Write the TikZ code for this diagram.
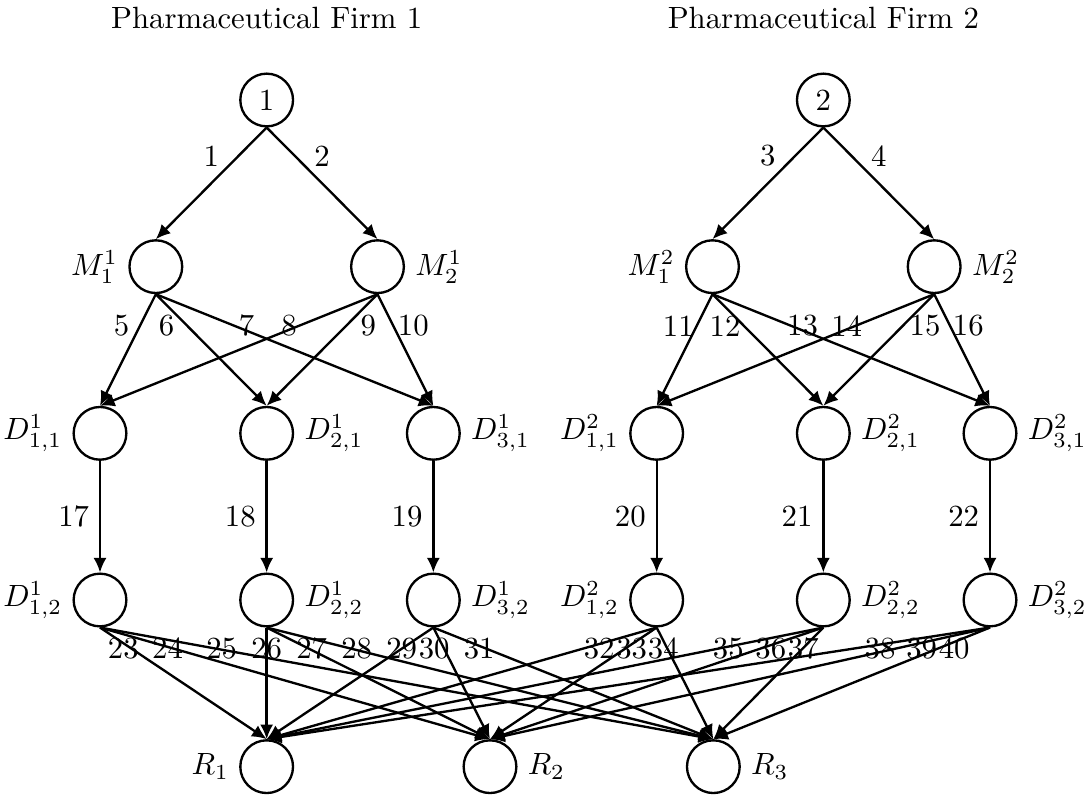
\RequirePackage{fix-cm}
\documentclass[tikz,border=0pt]{standalone}
\usepackage{amsmath}
\usepackage{fontspec}
\usetikzlibrary{arrows.meta, positioning}
\tikzset{
  netnode/.style={draw, circle, thick, minimum size=18pt, inner sep=0pt, label distance=-1.2pt},
  flow/.style={-{Latex[length=5pt, width=4.5pt]}, thick},
}

\begin{document}
\begin{tikzpicture}[font=\fontsize{10.5pt}{12.6pt}\selectfont]
    \useasboundingbox (0, 0) rectangle (13.068, 9.6);
    % titles
    \node (t1) at (3.2, 9.39) {Pharmaceutical Firm 1};
    \node (t2) at (9.88, 9.39) {Pharmaceutical Firm 2};
    % firms
    \node[netnode] (F1) at (3.2, 8.4) {1};
    \node[netnode] (F2) at (9.88, 8.4) {2};
    % manufacturing plants
    \node[netnode, label=left:{$M_1^1$}] (M11) at (1.87, 6.4) {};
    \node[netnode, label=right:{$M_2^1$}] (M12) at (4.53, 6.4) {};
    \node[netnode, label=left:{$M_1^2$}] (M21) at (8.55, 6.4) {};
    \node[netnode, label=right:{$M_2^2$}] (M22) at (11.21, 6.4) {};
    % distribution centers, storage
    \node[netnode, label=left:{$D_{1,1}^1$}] (D111) at (1.2, 4.4) {};
    \node[netnode, label=right:{$D_{2,1}^1$}] (D121) at (3.2, 4.4) {};
    \node[netnode, label=right:{$D_{3,1}^1$}] (D131) at (5.2, 4.4) {};
    \node[netnode, label=left:{$D_{1,1}^2$}] (D211) at (7.88, 4.4) {};
    \node[netnode, label=right:{$D_{2,1}^2$}] (D221) at (9.88, 4.4) {};
    \node[netnode, label=right:{$D_{3,1}^2$}] (D231) at (11.88, 4.4) {};
    % distribution centers, processing
    \node[netnode, label=left:{$D_{1,2}^1$}] (D112) at (1.2, 2.4) {};
    \node[netnode, label=right:{$D_{2,2}^1$}] (D122) at (3.2, 2.4) {};
    \node[netnode, label=right:{$D_{3,2}^1$}] (D132) at (5.2, 2.4) {};
    \node[netnode, label=left:{$D_{1,2}^2$}] (D212) at (7.88, 2.4) {};
    \node[netnode, label=right:{$D_{2,2}^2$}] (D222) at (9.88, 2.4) {};
    \node[netnode, label=right:{$D_{3,2}^2$}] (D232) at (11.88, 2.4) {};
    % demand markets
    \node[netnode, label=left:{$R_1$}] (R1) at (3.2, 0.4) {};
    \node[netnode, label=right:{$R_2$}] (R2) at (5.88, 0.4) {};
    \node[netnode, label=right:{$R_3$}] (R3) at (8.56, 0.4) {};

    % manufacturing links
    \draw[flow] (F1.south) -- (M11.north) node[midway, above=2pt] {1};
    \draw[flow] (F1.south) -- (M12.north) node[midway, above=2pt] {2};
    \draw[flow] (F2.south) -- (M21.north) node[midway, above=2pt] {3};
    \draw[flow] (F2.south) -- (M22.north) node[midway, above=2pt] {4};

    % shipment links
    \draw[flow] (M11.south) -- (D111.north) node at (1.46, 5.69) {5};
    \draw[flow] (M11.south) -- (D121.north) node at (2.00, 5.69) {6};
    \draw[flow] (M11.south) -- (D131.north) node at (2.96, 5.69) {7};
    \draw[flow] (M12.south) -- (D111.north) node at (3.47, 5.69) {8};
    \draw[flow] (M12.south) -- (D121.north) node at (4.42, 5.69) {9};
    \draw[flow] (M12.south) -- (D131.north) node at (4.96, 5.69) {10};
    \draw[flow] (M21.south) -- (D211.north) node at (8.14, 5.69) {11};
    \draw[flow] (M21.south) -- (D221.north) node at (8.70, 5.69) {12};
    \draw[flow] (M21.south) -- (D231.north) node at (9.63, 5.69) {13};
    \draw[flow] (M22.south) -- (D211.north) node at (10.16, 5.69) {14};
    \draw[flow] (M22.south) -- (D221.north) node at (11.10, 5.69) {15};
    \draw[flow] (M22.south) -- (D231.north) node at (11.62, 5.69) {16};

    % storage links
    \draw[flow] (D111.south) -- (D112.north) node[midway, left] {17};
    \draw[flow] (D121.south) -- (D122.north) node[midway, left] {18};
    \draw[flow] (D131.south) -- (D132.north) node[midway, left] {19};
    \draw[flow] (D211.south) -- (D212.north) node[midway, left] {20};
    \draw[flow] (D221.south) -- (D222.north) node[midway, left] {21};
    \draw[flow] (D231.south) -- (D232.north) node[midway, left] {22};

    % distribution links
    \draw[flow] (D112.south) -- (R1.north) node at (1.48, 1.82) {23};
    \draw[flow] (D112.south) -- (R2.north) node at (2.01, 1.82) {24};
    \draw[flow] (D112.south) -- (R3.north) node at (2.66, 1.82) {25};
    \draw[flow] (D122.south) -- (R1.north) node at (3.20, 1.82) {26};
    \draw[flow] (D122.south) -- (R2.north) node at (3.74, 1.82) {27};
    \draw[flow] (D122.south) -- (R3.north) node at (4.28, 1.82) {28};
    \draw[flow] (D132.south) -- (R1.north) node at (4.82, 1.82) {29};
    \draw[flow] (D132.south) -- (R2.north) node at (5.21, 1.82) {30};
    \draw[flow] (D132.south) -- (R3.north) node at (5.75, 1.82) {31};
    \draw[flow] (D212.south) -- (R1.north) node at (7.19, 1.82) {32};
    \draw[flow] (D212.south) -- (R2.north) node at (7.58, 1.82) {33};
    \draw[flow] (D212.south) -- (R3.north) node at (7.96, 1.82) {34};
    \draw[flow] (D222.south) -- (R1.north) node at (8.74, 1.82) {35};
    \draw[flow] (D222.south) -- (R2.north) node at (9.25, 1.82) {36};
    \draw[flow] (D222.south) -- (R3.north) node at (9.64, 1.82) {37};
    \draw[flow] (D232.south) -- (R1.north) node at (10.56, 1.82) {38};
    \draw[flow] (D232.south) -- (R2.north) node at (11.06, 1.82) {39};
    \draw[flow] (D232.south) -- (R3.north) node at (11.45, 1.82) {40};
\end{tikzpicture}
\end{document}
